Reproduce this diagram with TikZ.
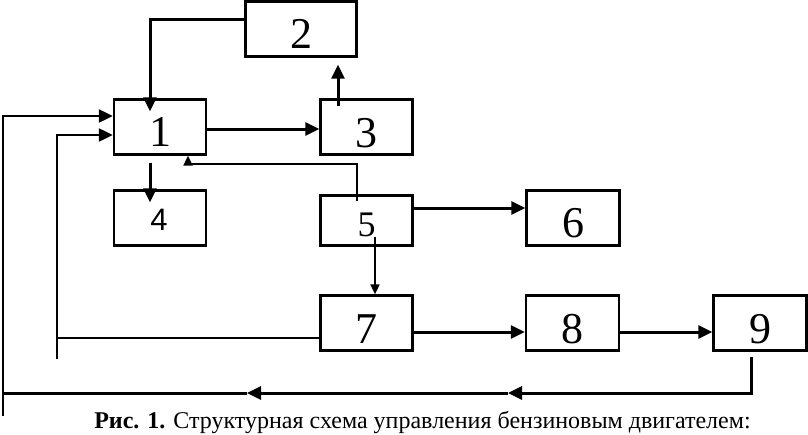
\documentclass[tikz,border=0pt]{standalone}
\usepackage{fontspec}
\setmainfont{Liberation Serif}
\newfontfamily\sansf{Liberation Sans}
\usetikzlibrary{arrows.meta}
\begin{document}
\begin{tikzpicture}[x=1pt,y=-1pt,
  blk/.style={draw, line width=2.4pt, minimum width=92pt, minimum height=55pt, inner sep=0pt},
  dig/.style={anchor=base, inner sep=0pt, font=\fontsize{44}{48}\selectfont},
  conn/.style={line width=3pt, -{Triangle[length=14pt,width=13pt]}},
  conns/.style={line width=2.1pt, -{Triangle[length=10pt,width=9pt]}},
  ln/.style={line width=3pt},
  lnt/.style={line width=2.2pt}]
\useasboundingbox (0,0) rectangle (808,434);
% boxes
\node[blk] (b1) at (160,127) {};
\node[blk, minimum width=111pt] (b2) at (301,29) {};
\node[blk] (b3) at (366.5,127) {};
\node[blk] (b4) at (160,218) {};
\node[blk, minimum height=50pt] (b5) at (366.5,220.5) {};
\node[blk, minimum width=93pt] (b6) at (573,218) {};
\node[blk] (b7) at (366.5,323) {};
\node[blk, minimum width=93pt] (b8) at (572.5,323) {};
\node[blk, minimum width=93pt] (b9) at (760,323) {};
% labels
\node[dig] (t1) at (160,146) {1};
\node[dig] (t2) at (301,48) {2};
\node[dig] (t3) at (366.5,147) {3};
\node[dig, font=\sansf\fontsize{31}{34}\selectfont] (t4) at (159,230) {4};
\node[dig, font=\fontsize{36}{40}\selectfont] (t5) at (366.5,236) {5};
\node[dig] (t6) at (573,237) {6};
\node[dig] (t7) at (366,343) {7};
\node[dig] (t8) at (572.5,343) {8};
\node[dig] (t9) at (760,343) {9};
% coordinates for free ends
\coordinate (cL) at (3,416);
\coordinate (cL2) at (57,359);
\coordinate (j7) at (57,338);
\coordinate (c9) at (751,357);
\coordinate (m1) at (508,393);
\coordinate (m2) at (247,393);
\coordinate (m0) at (3,393);
% connectors
\draw[conn] ([yshift=10pt]b2.west) -| ([xshift=-10pt,yshift=-13pt]b1.north);
\draw[conn] ([xshift=-28.5pt,yshift=-8pt]b3.north) -- ([xshift=37pt,yshift=-7pt]b2.south);
\draw[conn] ([yshift=-2pt]b1.east) -- ([yshift=-2pt]b3.west);
\draw[conn] ([xshift=-10pt,yshift=-7pt]b1.south) -- ([xshift=-10pt,yshift=-13pt]b4.north);
\draw[conns] ([xshift=-9.5pt,yshift=-7pt]b5.north) |- (188,164) -- ([xshift=28pt]b1.south);
\draw[conn] ([yshift=12.5pt]b5.east) -- ([yshift=10pt]b6.west);
\draw[conns] ([xshift=8.5pt,yshift=-16.5pt]b5.center) -- ([xshift=8.5pt]b7.north);
\draw[conn] ([yshift=-9pt]b7.east) -- ([yshift=-9pt]b8.west);
\draw[conn] ([yshift=-9pt]b8.east) -- ([yshift=-9pt]b9.west);
\draw[lnt] ([yshift=-15pt]b7.west) -- (j7);
\draw[conn, line width=2.3pt] (cL2) |- ([yshift=-8pt]b1.west);
\draw[conn, line width=2.3pt] (cL) |- ([yshift=11pt]b1.west);
\draw[conn] (c9) |- (m1);
\draw[conn] (m1) -- (m2);
\draw[ln] (m2) -- (m0);
% caption
\node[anchor=base, inner sep=0pt, font=\fontsize{24}{27}\selectfont] (cap) at (422.5,428)
  {\textbf{Рис. 1.} Структурная схема управления бензиновым двигателем:};
\end{tikzpicture}
\end{document}
